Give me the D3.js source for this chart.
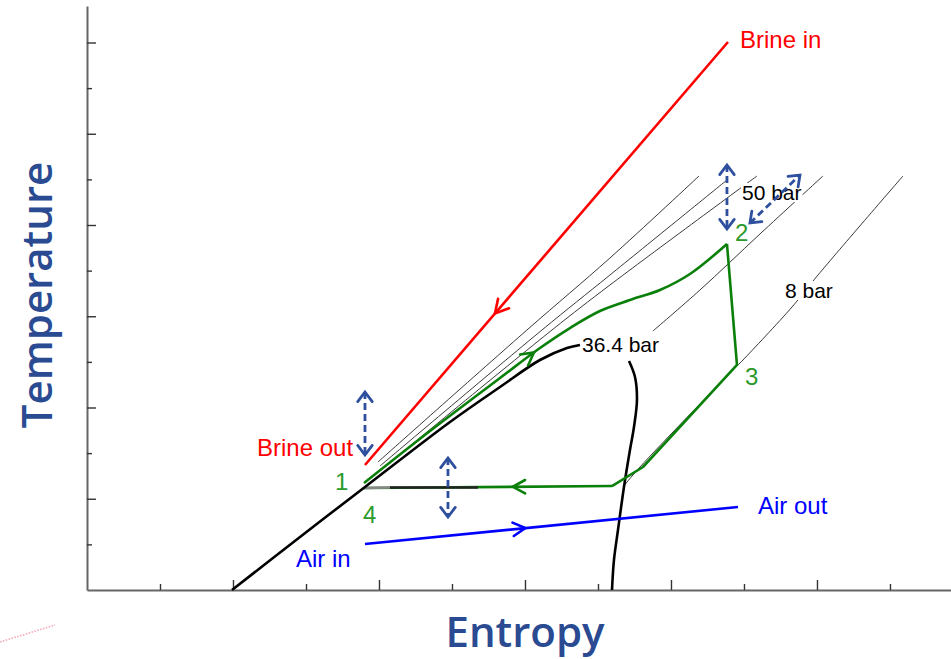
<!DOCTYPE html>
<html><head><meta charset="utf-8">
<script src="https://cdn.jsdelivr.net/npm/d3@7"></script>
<style>body{margin:0;background:#fff;} svg{display:block;}</style>
</head><body>
<svg id="chart" width="951" height="659"></svg>
<script>
// ---------- data (entropy s, temperature T in chart units) ----------
const xTicks = [1,2,3,4,5,6,7,8,9,10,11];
const yTicks = [1,2,3,4,5,6,7,8,9,10,11,12];

const brineLine = [[8.781,12.011],[3.808,2.740]];
const airLine   = [[3.808,1.008],[8.918,1.819]];

const satLiquid = [[1.986,0],[2.918,1.162],[3.808,2.258],[4.973,3.682],[5.658,4.449],
                   [6.205,5.041],[6.575,5.304],[6.753,5.370]];
const satVapor  = [[7.425,5.019],[7.507,4.668],[7.534,4.164],[7.493,3.573],[7.438,3.068],
                   [7.356,2.258],[7.274,1.315],[7.219,0.658],[7.192,0]];

const cycleUpper = [[3.795,2.345],[4.699,3.485],[5.658,4.647],[6.205,5.304],[6.616,5.742],
                    [7.027,6.115],[7.438,6.356],[7.849,6.575],[8.260,6.926],[8.767,7.584]];
const cycleLower = [[8.767,7.584],[8.904,4.932],[7.616,2.696],[7.192,2.279],[3.795,2.236]];

const isobars = [
  [[3.986,2.805],[6.027,5.699],[7.164,7.277],[8.384,9.074]],
  [[4.014,2.718],[6.233,5.699],[7.164,6.904],[8.767,8.986]],
  [[4.041,2.652],[6.370,5.699],[7.164,6.685],[9.178,9.074]],
  [[7.753,5.677],[8.397,6.575],[9.219,7.803],[10.082,9.074]],
  [[7.342,2.258],[7.575,2.696],[8.904,4.910],[8.986,5.041],[9.658,6.203],[10.014,6.904],[11.178,9.074]]
];
const greySeg  = [[3.795,2.236],[4.151,2.247]];
const blackSeg = [[4.151,2.247],[5.356,2.247]];

const dashedArrows = [
  [[3.808,4.340],[3.808,2.959]],
  [[4.945,2.893],[4.945,1.600]],
  [[8.767,9.315],[8.767,7.912]],
  [[9.082,8.044],[9.767,9.096]]
];

const pressureLabels = [
  {text:"50 bar",   s:8.973, T:8.548},
  {text:"8 bar",    s:9.562, T:6.400},
  {text:"36.4 bar", s:6.781, T:5.216}
];
const streamLabels = [
  {text:"Brine in",  s:8.945, T:11.879, c:"#ff0000"},
  {text:"Brine out", s:2.329, T:2.937,  c:"#ff0000"},
  {text:"Air in",    s:2.863, T:0.504,  c:"#0000ff"},
  {text:"Air out",   s:9.192, T:1.666,  c:"#0000ff"}
];
const stateLabels = [
  {text:"1", s:3.397, T:2.192},
  {text:"2", s:8.877, T:7.649},
  {text:"3", s:9.014, T:4.493},
  {text:"4", s:3.781, T:1.468}
];
const decoDots = [[-1.192,-1.140],[-0.438,-0.767]];

// ---------- drawing ----------
const svg = d3.select("#chart");
const x = d3.scaleLinear().domain([0, 11.836]).range([87, 951]);
const y = d3.scaleLinear().domain([0, 12.8]).range([590, 6]);
const P = d => [x(d[0]), y(d[1])];
const lineLin = d3.line().x(d=>x(d[0])).y(d=>y(d[1]));
const lineSmooth = d3.line().x(d=>x(d[0])).y(d=>y(d[1])).curve(d3.curveCatmullRom.alpha(0.5));

// axes
const gx = svg.append("g").attr("transform","translate(0,590)")
  .call(d3.axisBottom(x).tickValues(xTicks).tickSize(-6).tickSizeOuter(0).tickFormat(""));
gx.selectAll(".tick line").attr("y2", d => d%2===0 ? -10 : -6).attr("stroke","#333").attr("stroke-width",1.4);
gx.select(".domain").attr("stroke","#666").attr("stroke-width",2);
const gy = svg.append("g").attr("transform","translate(87,0)")
  .call(d3.axisLeft(y).tickValues(yTicks).tickSize(-5).tickSizeOuter(0).tickFormat(""));
gy.selectAll(".tick line").attr("x2", d => d%2===0 ? 9 : 5).attr("stroke","#333").attr("stroke-width",1.4);
gy.select(".domain").attr("stroke","#666").attr("stroke-width",2);

// axis titles
svg.append("text").attr("x",525).attr("y",647).attr("text-anchor","middle")
  .attr("font-family","'Open Sans', sans-serif").attr("font-size",42).attr("font-weight",600)
  .attr("fill","#2a4a92").text("Entropy");
svg.append("text").attr("transform","translate(52,295) rotate(-90)").attr("text-anchor","middle")
  .attr("font-family","'Open Sans', sans-serif").attr("font-size",42).attr("font-weight",600)
  .attr("fill","#2a4a92").text("Temperature");

// decorative dotted mark
svg.append("path").attr("d", lineLin(decoDots)).attr("fill","none")
  .attr("stroke","#f2a6b6").attr("stroke-width",1.6).attr("stroke-dasharray","1.5,1.5");

// isobars
const gIso = svg.append("g");
isobars.forEach(l => gIso.append("path").attr("d", lineSmooth(l)).attr("fill","none")
  .attr("stroke","#222").attr("stroke-width",0.9));

// pressure labels with white background
const gPL = svg.append("g");
pressureLabels.forEach(l => {
  const t = gPL.append("text").attr("x",x(l.s)).attr("y",y(l.T))
    .attr("font-family","'Liberation Sans', Arial, sans-serif").attr("font-size",21)
    .attr("fill","#000").text(l.text);
  const b = t.node().getBBox();
  gPL.insert("rect","text").attr("x",b.x-1).attr("y",b.y+2).attr("width",b.width+2).attr("height",b.height-4).attr("fill","#fff");
});

// horizontal pieces at state 4
svg.append("path").attr("d", lineLin(cycleLower.slice(3))).attr("fill","none")
  .attr("stroke","#0a800a").attr("stroke-width",2.6);
svg.append("path").attr("d", lineLin(greySeg)).attr("fill","none").attr("stroke","#888").attr("stroke-width",2.6);
svg.append("path").attr("d", lineLin(blackSeg)).attr("fill","none").attr("stroke","#222").attr("stroke-width",2.4);

// saturation dome
svg.append("path").attr("d", lineSmooth(satLiquid)).attr("fill","none").attr("stroke","#000").attr("stroke-width",2.6);
svg.append("path").attr("d", lineSmooth(satVapor)).attr("fill","none").attr("stroke","#000").attr("stroke-width",2.6);

// cycle
svg.append("path").attr("d", lineSmooth(cycleUpper)).attr("fill","none").attr("stroke","#0a800a").attr("stroke-width",2.6);
svg.append("path").attr("d", lineLin(cycleLower.slice(0,4))).attr("fill","none").attr("stroke","#0a800a").attr("stroke-width",2.6).attr("stroke-linejoin","round");

// brine and air
svg.append("path").attr("d", lineLin(brineLine)).attr("fill","none").attr("stroke","#ff0000").attr("stroke-width",2.6);
svg.append("path").attr("d", lineLin(airLine)).attr("fill","none").attr("stroke","#0000ff").attr("stroke-width",2.6);

// arrow heads
function vHead(px, py, ang, len, spread, color, w) {
  const a1 = ang + Math.PI - spread, a2 = ang + Math.PI + spread;
  svg.append("path")
    .attr("d", `M${px+len*Math.cos(a1)},${py+len*Math.sin(a1)}L${px},${py}L${px+len*Math.cos(a2)},${py+len*Math.sin(a2)}`)
    .attr("fill","none").attr("stroke",color).attr("stroke-width",w).attr("stroke-linecap","round");
}
function headOn(seg, frac, len, spread, color, w) {
  const a = P(seg[0]), b = P(seg[1]);
  const px = a[0] + (b[0]-a[0])*frac, py = a[1] + (b[1]-a[1])*frac;
  vHead(px, py, Math.atan2(b[1]-a[1], b[0]-a[0]), len, spread, color, w);
}
headOn(brineLine, 0.642, 15, 0.5, "#ff0000", 2.6);
headOn(airLine, 0.43, 14, 0.5, "#0000ff", 2.6);
headOn([cycleUpper[2], cycleUpper[3]], 0.85, 14, 0.5, "#0a800a", 2.6);
headOn([cycleLower[3], cycleLower[4]], 0.40, 14, 0.5, "#0a800a", 2.6);

// dashed double arrows
dashedArrows.forEach(seg => {
  svg.append("path").attr("d", lineLin(seg)).attr("fill","none")
    .attr("stroke","#2d4f9e").attr("stroke-width",2.8).attr("stroke-dasharray","7,4");
  headOn(seg, 1, 12, 0.65, "#2d4f9e", 2.8);
  headOn([seg[1],seg[0]], 1, 12, 0.65, "#2d4f9e", 2.8);
});

// stream labels
streamLabels.forEach(l => svg.append("text").attr("x",x(l.s)).attr("y",y(l.T))
  .attr("font-family","'Liberation Sans', Arial, sans-serif").attr("font-size",24)
  .attr("fill",l.c).text(l.text));
// state labels
stateLabels.forEach(l => svg.append("text").attr("x",x(l.s)).attr("y",y(l.T))
  .attr("font-family","'Liberation Sans', Arial, sans-serif").attr("font-size",24)
  .attr("fill","#2b9a2b").text(l.text));
</script>
</body></html>
